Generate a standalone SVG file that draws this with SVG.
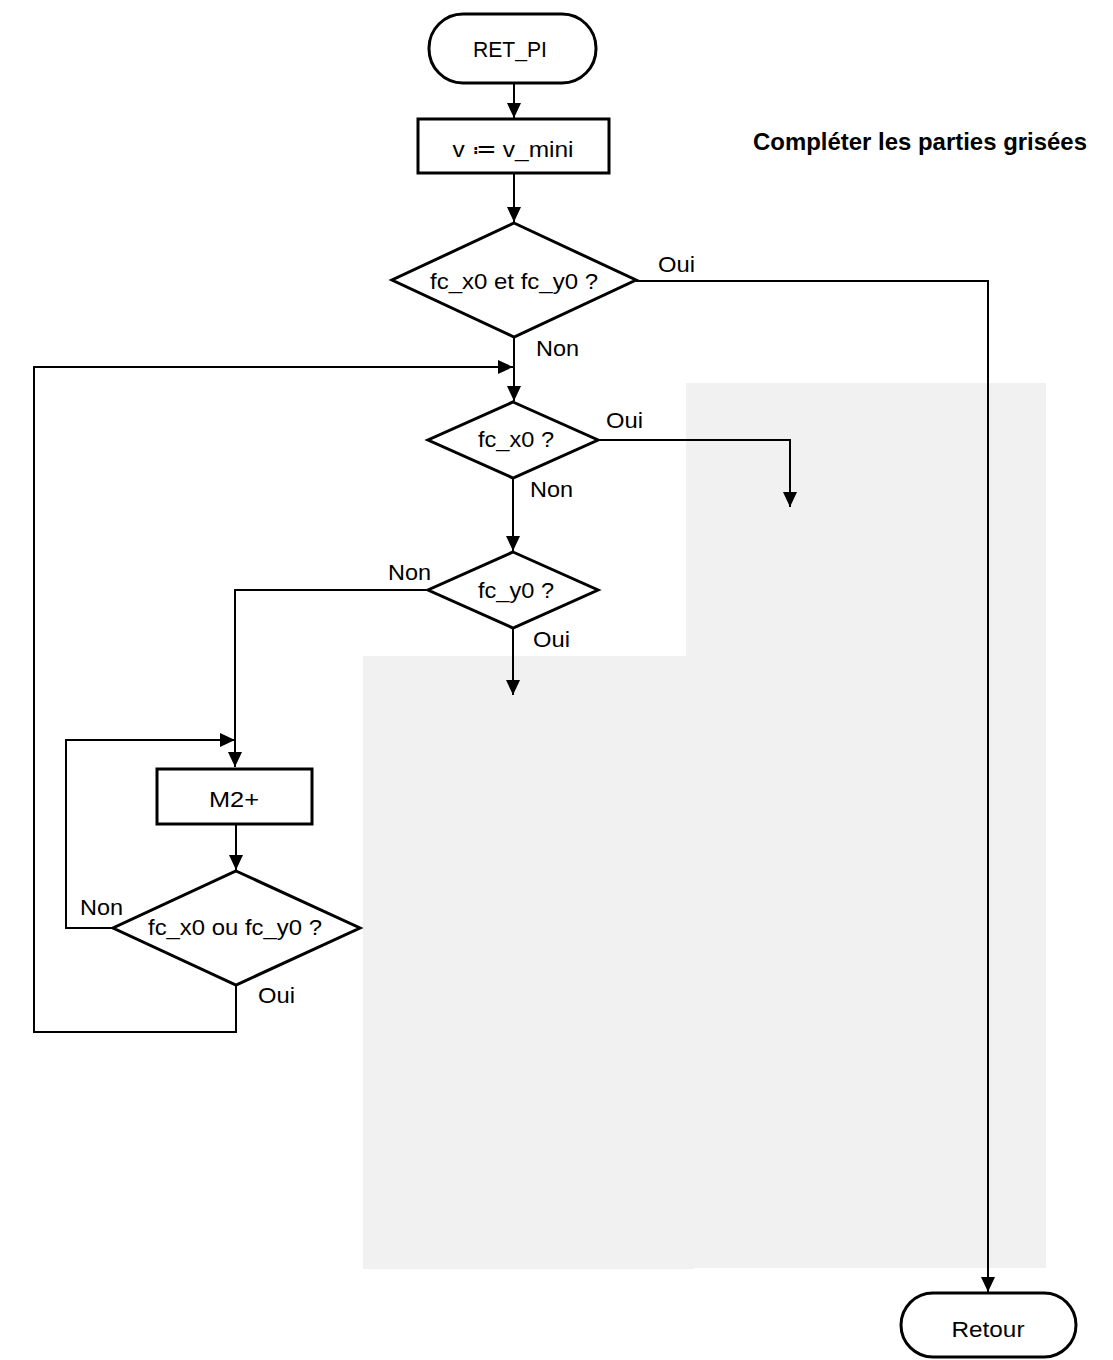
<svg xmlns="http://www.w3.org/2000/svg" width="1113" height="1360" viewBox="0 0 1113 1360">
<style>
.bg{fill:#f1f1f1;stroke:none}
.shape{fill:#fff;stroke:#000;stroke-width:3}
.conn{fill:none;stroke:#000;stroke-width:2}
.t{font-family:"Liberation Sans",Arial,sans-serif;font-size:22px;fill:#000}
.c{text-anchor:middle}
.title{font-family:"Liberation Sans",Arial,sans-serif;font-size:24px;font-weight:bold;fill:#000}
</style>
<defs>
<marker id="arr" viewBox="0 0 15 14" refX="15" refY="7" markerWidth="15" markerHeight="14" markerUnits="userSpaceOnUse" orient="auto">
<path d="M0,0 L15,7 L0,14 Z" fill="#000"/>
</marker>
</defs>
<g id="grey">
<rect class="bg" x="686" y="383" width="360" height="885"/>
<rect class="bg" x="363" y="656" width="331" height="613"/>
</g>
<text class="title" x="753" y="150" textLength="334" lengthAdjust="spacingAndGlyphs">Compléter les parties grisées</text>
<g id="connectors">
<path class="conn" d="M514,83 V118" marker-end="url(#arr)"/>
<path class="conn" d="M514,173 V222" marker-end="url(#arr)"/>
<path class="conn" d="M636,281 H988 V1292" marker-end="url(#arr)"/>
<path class="conn" d="M514,337 V401" marker-end="url(#arr)"/>
<path class="conn" d="M598,440 H790 V507" marker-end="url(#arr)"/>
<path class="conn" d="M513,478 V551" marker-end="url(#arr)"/>
<path class="conn" d="M513,628 V695" marker-end="url(#arr)"/>
<path class="conn" d="M428,590 H235 V767" marker-end="url(#arr)"/>
<path class="conn" d="M236,824 V870" marker-end="url(#arr)"/>
<path class="conn" d="M113,928 H66 V740 H235" marker-end="url(#arr)"/>
<path class="conn" d="M236,985 V1032 H34 V367 H513" marker-end="url(#arr)"/>
</g>
<g id="ret_pi">
<rect class="shape" x="429" y="14" width="167" height="69" rx="34" ry="34"/>
<text class="t c" x="510" y="57" textLength="74" lengthAdjust="spacingAndGlyphs">RET_PI</text>
</g>
<g id="init">
<rect class="shape" x="418" y="119" width="191" height="54"/>
<text class="t c" x="513" y="157" textLength="121" lengthAdjust="spacingAndGlyphs">v ≔ v_mini</text>
</g>
<g id="d1">
<polygon class="shape" points="514,223 636,280 514,337 392,280"/>
<text class="t c" x="514" y="289" textLength="168" lengthAdjust="spacingAndGlyphs">fc_x0 et fc_y0 ?</text>
<text class="t" x="658" y="272" textLength="37" lengthAdjust="spacingAndGlyphs">Oui</text>
<text class="t" x="536" y="356" textLength="43" lengthAdjust="spacingAndGlyphs">Non</text>
</g>
<g id="d2">
<polygon class="shape" points="513,402 598,440 513,478 428,440"/>
<text class="t c" x="516" y="447" textLength="76" lengthAdjust="spacingAndGlyphs">fc_x0 ?</text>
<text class="t" x="606" y="428" textLength="37" lengthAdjust="spacingAndGlyphs">Oui</text>
<text class="t" x="530" y="497" textLength="43" lengthAdjust="spacingAndGlyphs">Non</text>
</g>
<g id="d3">
<polygon class="shape" points="513,552 598,590 513,628 428,590"/>
<text class="t c" x="516" y="598" textLength="76" lengthAdjust="spacingAndGlyphs">fc_y0 ?</text>
<text class="t" x="388" y="580" textLength="43" lengthAdjust="spacingAndGlyphs">Non</text>
<text class="t" x="533" y="647" textLength="37" lengthAdjust="spacingAndGlyphs">Oui</text>
</g>
<g id="m2">
<rect class="shape" x="157" y="769" width="155" height="55"/>
<text class="t c" x="234" y="807" textLength="50" lengthAdjust="spacingAndGlyphs">M2+</text>
</g>
<g id="d4">
<polygon class="shape" points="236,871 360,928 236,985 113,928"/>
<text class="t c" x="235" y="935" textLength="174" lengthAdjust="spacingAndGlyphs">fc_x0 ou fc_y0 ?</text>
<text class="t" x="80" y="915" textLength="43" lengthAdjust="spacingAndGlyphs">Non</text>
<text class="t" x="258" y="1003" textLength="37" lengthAdjust="spacingAndGlyphs">Oui</text>
</g>
<g id="retour">
<rect class="shape" x="901" y="1293" width="175" height="64" rx="32" ry="32"/>
<text class="t c" x="988" y="1337" textLength="73" lengthAdjust="spacingAndGlyphs">Retour</text>
</g>
</svg>
